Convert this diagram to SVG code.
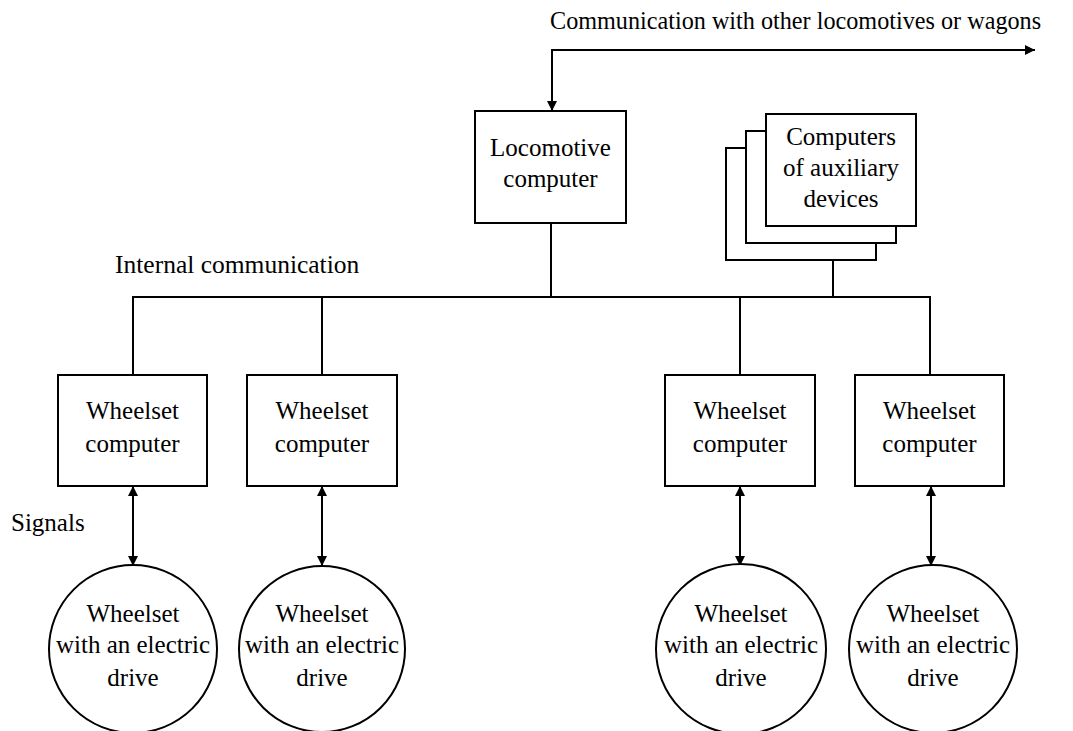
<svg xmlns="http://www.w3.org/2000/svg" width="1073" height="731" viewBox="0 0 1073 731">
  <style>
    .box { fill: #fff; stroke: #000; stroke-width: 2; }
    .wire { fill: none; stroke: #000; stroke-width: 2; }
    text { font-family: "Liberation Serif", "Times New Roman", serif; font-size: 25px; fill: #000; }
    .c { text-anchor: middle; }
  </style>
  <defs>
    <marker id="arr" viewBox="0 0 10 10" refX="10" refY="5" markerWidth="11" markerHeight="10" markerUnits="userSpaceOnUse" orient="auto-start-reverse">
      <path d="M0,0 L10,5 L0,10 Z" fill="#000"/>
    </marker>
  </defs>

  <rect width="1073" height="731" fill="#fff"/>

  <!-- free labels -->
  <text x="550" y="29" style="font-size:24.2px">Communication with other locomotives or wagons</text>
  <text x="115" y="273" style="font-size:25.5px">Internal communication</text>
  <text x="11" y="531">Signals</text>

  <!-- connectors -->
  <g id="connectors">
    <path class="wire" d="M1035,50 L552,50 L552,111" marker-start="url(#arr)" marker-end="url(#arr)"/>
    <line class="wire" x1="551" y1="223" x2="551" y2="297"/>
    <line class="wire" x1="833" y1="226" x2="833" y2="298"/>
    <path class="wire" d="M133,375 L133,297 L930,297 L930,375"/>
    <line class="wire" x1="322" y1="297" x2="322" y2="375"/>
    <line class="wire" x1="740" y1="297" x2="740" y2="375"/>
    <line class="wire" x1="133" y1="486" x2="133" y2="566" marker-start="url(#arr)" marker-end="url(#arr)"/>
    <line class="wire" x1="322" y1="486" x2="322" y2="566" marker-start="url(#arr)" marker-end="url(#arr)"/>
    <line class="wire" x1="740" y1="486" x2="740" y2="566" marker-start="url(#arr)" marker-end="url(#arr)"/>
    <line class="wire" x1="931" y1="486" x2="931" y2="566" marker-start="url(#arr)" marker-end="url(#arr)"/>
  </g>

  <!-- locomotive computer -->
  <g id="locomotive-computer">
    <rect class="box" x="475" y="111" width="151" height="112"/>
    <text class="c" x="550.5" y="156">Locomotive</text>
    <text class="c" x="550.5" y="187">computer</text>
  </g>

  <!-- stacked auxiliary computers -->
  <g id="auxiliary-computers">
    <rect class="box" x="726" y="148" width="150" height="112"/>
    <rect class="box" x="746" y="131" width="150" height="112"/>
    <rect class="box" x="766" y="114" width="150" height="112"/>
    <text class="c" x="841" y="145">Computers</text>
    <text class="c" x="841" y="176">of auxiliary</text>
    <text class="c" x="841" y="207">devices</text>
  </g>

  <!-- wheelset computers -->
  <g id="wheelset-computer-1">
    <rect class="box" x="58" y="375" width="149" height="111"/>
    <text class="c" x="132.5" y="419">Wheelset</text>
    <text class="c" x="132.5" y="452">computer</text>
  </g>
  <g id="wheelset-computer-2">
    <rect class="box" x="247" y="375" width="150" height="111"/>
    <text class="c" x="322" y="419">Wheelset</text>
    <text class="c" x="322" y="452">computer</text>
  </g>
  <g id="wheelset-computer-3">
    <rect class="box" x="665" y="375" width="150" height="111"/>
    <text class="c" x="740" y="419">Wheelset</text>
    <text class="c" x="740" y="452">computer</text>
  </g>
  <g id="wheelset-computer-4">
    <rect class="box" x="855" y="375" width="149" height="111"/>
    <text class="c" x="929.5" y="419">Wheelset</text>
    <text class="c" x="929.5" y="452">computer</text>
  </g>

  <!-- wheelsets with electric drives -->
  <g id="wheelset-drive-1">
    <circle class="box" cx="133" cy="649" r="84"/>
    <text class="c" x="133" y="622">Wheelset</text>
    <text class="c" x="133" y="653">with an electric</text>
    <text class="c" x="133" y="686">drive</text>
  </g>
  <g id="wheelset-drive-2">
    <circle class="box" cx="322" cy="649" r="83"/>
    <text class="c" x="322" y="622">Wheelset</text>
    <text class="c" x="322" y="653">with an electric</text>
    <text class="c" x="322" y="686">drive</text>
  </g>
  <g id="wheelset-drive-3">
    <circle class="box" cx="741" cy="649" r="85"/>
    <text class="c" x="741" y="622">Wheelset</text>
    <text class="c" x="741" y="653">with an electric</text>
    <text class="c" x="741" y="686">drive</text>
  </g>
  <g id="wheelset-drive-4">
    <circle class="box" cx="933" cy="649" r="84"/>
    <text class="c" x="933" y="622">Wheelset</text>
    <text class="c" x="933" y="653">with an electric</text>
    <text class="c" x="933" y="686">drive</text>
  </g>
</svg>
